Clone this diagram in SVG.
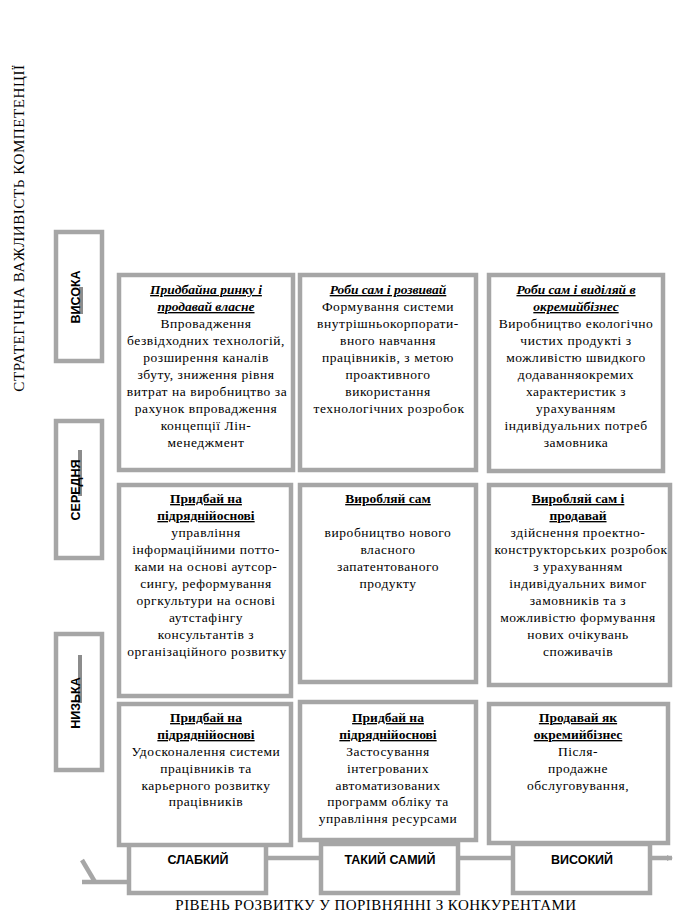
<svg xmlns="http://www.w3.org/2000/svg" width="680" height="921" viewBox="0 0 680 921">
<style>
.box{fill:#fff;stroke:#a6a6a6;stroke-width:4.5}
.lbl{font-weight:bold;fill:#000;text-anchor:middle}
.ax{fill:#000;text-anchor:middle}
.t{fill:#000;text-anchor:middle;letter-spacing:0.55px}
.h{font-weight:bold;text-decoration:underline;letter-spacing:0}
.hi{font-weight:bold;font-style:italic;text-decoration:underline;letter-spacing:0}
.bar{fill:#8c8c8c}
.conn{stroke:#a6a6a6;stroke-width:4.5;fill:none}
</style>
<defs>
<marker id="arr" markerWidth="6" markerHeight="6" refX="5" refY="3" orient="auto" markerUnits="userSpaceOnUse">
<path d="M0,0 L6,3 L0,6 Z" fill="#a6a6a6"/>
</marker>
</defs>
<rect width="680" height="921" fill="#fff"/>

<text class="ax" style="font-family:'Liberation Serif',serif;font-size:15px;letter-spacing:0.6px" transform="translate(24,228) rotate(-90)">СТРАТЕГІЧНА ВАЖЛИВІСТЬ КОМПЕТЕНЦІЇ</text>

<g id="connectors">
<path class="conn" d="M266,858 L672,858" marker-end="url(#arr)"/>
<path class="conn" d="M82,860 L95,882"/>
<path class="conn" d="M82,882 L131,882"/>
</g>

<g id="y-high">
<rect class="box" x="56" y="232" width="46" height="129"/>
<rect class="bar" x="79" y="287" width="4" height="27"/>
<text class="lbl" style="font-family:'Liberation Sans',sans-serif;font-size:12.5px" transform="translate(80,297) rotate(-90)">ВИСОКА</text>
</g>
<g id="y-mid">
<rect class="box" x="56" y="421" width="46" height="137"/>
<rect class="bar" x="78" y="450" width="4" height="46"/>
<text class="lbl" style="font-family:'Liberation Sans',sans-serif;font-size:12.5px" transform="translate(80,490) rotate(-90)">СЕРЕДНЯ</text>
</g>
<g id="y-low">
<rect class="box" x="56" y="634" width="46" height="136"/>
<rect class="bar" x="78" y="655" width="4" height="48"/>
<text class="lbl" style="font-family:'Liberation Sans',sans-serif;font-size:12.5px" transform="translate(80,703) rotate(-90)">НИЗЬКА</text>
</g>

<g id="x-weak">
<rect class="box" x="129" y="844" width="137" height="49"/>
<text class="lbl" style="font-family:'Liberation Sans',sans-serif;font-size:12.5px" x="198" y="864">СЛАБКИЙ</text>
</g>
<g id="x-same">
<rect class="box" x="321" y="844" width="137" height="49"/>
<text class="lbl" style="font-family:'Liberation Sans',sans-serif;font-size:12.5px" x="390" y="864">ТАКИЙ САМИЙ</text>
</g>
<g id="x-high">
<rect class="box" x="513" y="844" width="137" height="49"/>
<text class="lbl" style="font-family:'Liberation Sans',sans-serif;font-size:12.5px" x="582" y="864">ВИСОКИЙ</text>
</g>

<text class="ax" style="font-family:'Liberation Serif',serif;font-size:15px;letter-spacing:0.45px" x="376" y="910">РІВЕНЬ РОЗВИТКУ У ПОРІВНЯННІ З КОНКУРЕНТАМИ</text>

<g id="c11">
<rect class="box" x="119" y="275" width="174" height="195"/>
<text class="t" style="font-family:'Liberation Serif',serif;font-size:13.5px"><tspan class="hi" x="206" y="294">Придбайна ринку і</tspan><tspan class="hi" x="206" y="311">продавай власне</tspan><tspan x="206" y="328">Впровадження</tspan><tspan x="206" y="345">безвідходних технологій,</tspan><tspan x="206" y="362">розширення каналів</tspan><tspan x="206" y="379">збуту, зниження рівня</tspan><tspan x="207" y="396">витрат на виробництво за</tspan><tspan x="206" y="413">рахунок впровадження</tspan><tspan x="206" y="430">концепції Лін-</tspan><tspan x="206" y="447">менеджмент</tspan></text>
</g>
<g id="c12">
<rect class="box" x="300" y="275" width="176" height="195"/>
<text class="t" style="font-family:'Liberation Serif',serif;font-size:13.5px"><tspan class="hi" x="388" y="294">Роби сам і розвивай</tspan><tspan x="388" y="311">Формування системи</tspan><tspan x="388" y="328">внутрішньокорпорати-</tspan><tspan x="388" y="345">вного навчання</tspan><tspan x="388" y="362">працівників, з метою</tspan><tspan x="388" y="379">проактивного</tspan><tspan x="388" y="396">використання</tspan><tspan x="389" y="413">технологічних розробок</tspan></text>
</g>
<g id="c13">
<rect class="box" x="489" y="275" width="174" height="196"/>
<text class="t" style="font-family:'Liberation Serif',serif;font-size:13.5px"><tspan class="hi" x="576" y="294">Роби сам і виділяй в</tspan><tspan class="hi" x="576" y="311">окремийбізнес</tspan><tspan x="576" y="328">Виробництво екологічно</tspan><tspan x="576" y="345">чистих продукті з</tspan><tspan x="576" y="362">можливістю швидкого</tspan><tspan x="576" y="379">додаванняокремих</tspan><tspan x="576" y="396">характеристик з</tspan><tspan x="576" y="413">урахуванням</tspan><tspan x="576" y="430">індивідуальних потреб</tspan><tspan x="576" y="447">замовника</tspan></text>
</g>

<g id="c21">
<rect class="box" x="119" y="485" width="172" height="211"/>
<text class="t" style="font-family:'Liberation Serif',serif;font-size:13.5px"><tspan class="h" x="206" y="503">Придбай на</tspan><tspan class="h" x="206" y="520">підряднійоснові</tspan><tspan x="206" y="537">управління</tspan><tspan x="206" y="554">інформаційними потто-</tspan><tspan x="206" y="571">ками на основі аутсор-</tspan><tspan x="206" y="588">сингу, реформування</tspan><tspan x="206" y="605">оргкультури на основі</tspan><tspan x="206" y="622">аутстафінгу</tspan><tspan x="206" y="639">консультантів з</tspan><tspan x="207" y="656">організаційного розвитку</tspan></text>
</g>
<g id="c22">
<rect class="box" x="300" y="485" width="176" height="197"/>
<text class="t" style="font-family:'Liberation Serif',serif;font-size:13.5px"><tspan class="h" x="388" y="503">Виробляй сам</tspan><tspan x="388" y="537">виробництво нового</tspan><tspan x="388" y="554">власного</tspan><tspan x="388" y="571">запатентованого</tspan><tspan x="388" y="588">продукту</tspan></text>
</g>
<g id="c23">
<rect class="box" x="489" y="485" width="181" height="200"/>
<text class="t" style="font-family:'Liberation Serif',serif;font-size:13.5px"><tspan class="h" x="578" y="503">Виробляй сам і</tspan><tspan class="h" x="578" y="520">продавай</tspan><tspan x="578" y="537">здійснення проектно-</tspan><tspan x="581" y="554">конструкторських розробок</tspan><tspan x="578" y="571">з урахуванням</tspan><tspan x="578" y="588">індивідуальних вимог</tspan><tspan x="578" y="605">замовників та з</tspan><tspan x="578" y="622">можливістю формування</tspan><tspan x="578" y="639">нових очікувань</tspan><tspan x="578" y="656">споживачів</tspan></text>
</g>

<g id="c31">
<rect class="box" x="119" y="704" width="172" height="141"/>
<text class="t" style="font-family:'Liberation Serif',serif;font-size:13.5px"><tspan class="h" x="206" y="722">Придбай на</tspan><tspan class="h" x="206" y="739">підряднійоснові</tspan><tspan x="206" y="756">Удосконалення системи</tspan><tspan x="206" y="773">працівників та</tspan><tspan x="206" y="790">карьерного розвитку</tspan><tspan x="206" y="806">працівників</tspan></text>
</g>
<g id="c32">
<rect class="box" x="300" y="702" width="176" height="138"/>
<text class="t" style="font-family:'Liberation Serif',serif;font-size:13.5px"><tspan class="h" x="388" y="722">Придбай на</tspan><tspan class="h" x="388" y="739">підряднійоснові</tspan><tspan x="388" y="756">Застосування</tspan><tspan x="388" y="773">інтегрованих</tspan><tspan x="388" y="790">автоматизованих</tspan><tspan x="388" y="806">программ обліку та</tspan><tspan x="388" y="823">управління ресурсами</tspan></text>
</g>
<g id="c33">
<rect class="box" x="489" y="704" width="179" height="139"/>
<text class="t" style="font-family:'Liberation Serif',serif;font-size:13.5px"><tspan class="h" x="578" y="722">Продавай як</tspan><tspan class="h" x="578" y="739">окремийбізнес</tspan><tspan x="578" y="756">Після-</tspan><tspan x="578" y="773">продажне</tspan><tspan x="578" y="790">обслуговування,</tspan></text>
</g>
</svg>
